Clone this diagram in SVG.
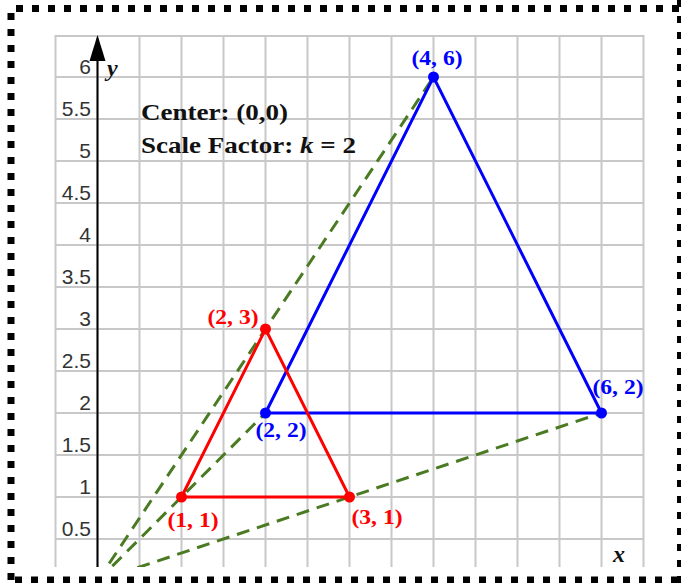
<svg xmlns="http://www.w3.org/2000/svg" width="681" height="583" viewBox="0 0 681 583">
<style>
.grid line{stroke:#c8c8c8;stroke-width:2}
.ylab{font-family:"Liberation Sans",Arial,sans-serif;font-size:21px;fill:#333;text-anchor:end}
.title{font-family:"Liberation Serif","Times New Roman",serif;font-size:23px;font-weight:bold;fill:#111}
.plab{font-family:"Liberation Serif","Times New Roman",serif;font-size:21px;font-weight:bold;text-anchor:middle}
.axlab{font-family:"Liberation Serif","Times New Roman",serif;font-size:24px;font-weight:bold;font-style:italic;fill:#111}
.red{fill:#ff0000}
.blue{fill:#0000ff}
.ray{stroke:#4a7a22;stroke-width:3;stroke-dasharray:13 8;fill:none}
.border{stroke:#000;stroke-width:7;stroke-dasharray:7 9;fill:none}
</style>
<defs>
<clipPath id="area"><rect x="50" y="30" width="600" height="537"/></clipPath>
</defs>
<rect width="681" height="583" fill="#fff"/>
<g class="grid">
<line x1="55.5" y1="35" x2="55.5" y2="567"/>
<line x1="97.5" y1="35" x2="97.5" y2="567"/>
<line x1="139.5" y1="35" x2="139.5" y2="567"/>
<line x1="181.5" y1="35" x2="181.5" y2="567"/>
<line x1="223.5" y1="35" x2="223.5" y2="567"/>
<line x1="265.5" y1="35" x2="265.5" y2="567"/>
<line x1="307.5" y1="35" x2="307.5" y2="567"/>
<line x1="349.5" y1="35" x2="349.5" y2="567"/>
<line x1="391.5" y1="35" x2="391.5" y2="567"/>
<line x1="433.5" y1="35" x2="433.5" y2="567"/>
<line x1="475.5" y1="35" x2="475.5" y2="567"/>
<line x1="517.5" y1="35" x2="517.5" y2="567"/>
<line x1="559.5" y1="35" x2="559.5" y2="567"/>
<line x1="601.5" y1="35" x2="601.5" y2="567"/>
<line x1="643.5" y1="35" x2="643.5" y2="567"/>
<line x1="55.5" y1="36" x2="643.5" y2="36"/>
<line x1="55.5" y1="77" x2="643.5" y2="77"/>
<line x1="55.5" y1="119" x2="643.5" y2="119"/>
<line x1="55.5" y1="161" x2="643.5" y2="161"/>
<line x1="55.5" y1="203" x2="643.5" y2="203"/>
<line x1="55.5" y1="245" x2="643.5" y2="245"/>
<line x1="55.5" y1="287" x2="643.5" y2="287"/>
<line x1="55.5" y1="329" x2="643.5" y2="329"/>
<line x1="55.5" y1="371" x2="643.5" y2="371"/>
<line x1="55.5" y1="413" x2="643.5" y2="413"/>
<line x1="55.5" y1="455" x2="643.5" y2="455"/>
<line x1="55.5" y1="497" x2="643.5" y2="497"/>
<line x1="55.5" y1="539" x2="643.5" y2="539"/>
</g>
<g id="y-axis">
<line x1="97.5" y1="567" x2="97.5" y2="55" stroke="#000" stroke-width="2"/>
<polygon points="97.5,35 105.5,61 89.5,61" fill="#000"/>
<text class="axlab" x="107" y="76">y</text>
</g>
<g id="x-label"><text class="axlab" x="613" y="562">x</text></g>
<g id="y-ticks">
<text class="ylab" x="91" y="73.5">6</text>
<text class="ylab" x="91" y="115.5">5.5</text>
<text class="ylab" x="91" y="157.5">5</text>
<text class="ylab" x="91" y="199.5">4.5</text>
<text class="ylab" x="91" y="241.5">4</text>
<text class="ylab" x="91" y="283.5">3.5</text>
<text class="ylab" x="91" y="325.5">3</text>
<text class="ylab" x="91" y="367.5">2.5</text>
<text class="ylab" x="91" y="409.5">2</text>
<text class="ylab" x="91" y="451.5">1.5</text>
<text class="ylab" x="91" y="493.5">1</text>
<text class="ylab" x="91" y="535.5">0.5</text>
</g>
<g id="info">
<text class="title" x="141" y="120" textLength="147" lengthAdjust="spacingAndGlyphs">Center: (0,0)</text>
<text class="title" x="141" y="153" textLength="215" lengthAdjust="spacingAndGlyphs">Scale Factor: <tspan font-style="italic">k</tspan> = 2</text>
</g>
<g id="connectors" clip-path="url(#area)">
<line class="ray" x1="97.5" y1="581" x2="433.5" y2="77"/>
<line class="ray" x1="97.5" y1="581" x2="265.5" y2="413"/>
<line class="ray" x1="97.5" y1="581" x2="601.5" y2="413"/>
</g>
<g id="image-triangle">
<polygon points="265.5,413 433.5,77 601.5,413" fill="none" stroke="#0000ff" stroke-width="3"/>
<circle cx="265.5" cy="413" r="5.5" fill="#0000ff"/>
<circle cx="433.5" cy="77" r="5.5" fill="#0000ff"/>
<circle cx="601.5" cy="413" r="5.5" fill="#0000ff"/>
<text class="plab blue" x="437" y="64.5" textLength="51" lengthAdjust="spacingAndGlyphs">(4, 6)</text>
<text class="plab blue" x="281" y="436.5" textLength="51" lengthAdjust="spacingAndGlyphs">(2, 2)</text>
<text class="plab blue" x="618" y="393.5" textLength="51" lengthAdjust="spacingAndGlyphs">(6, 2)</text>
</g>
<g id="original-triangle">
<polygon points="181.5,497 265.5,329 349.5,497" fill="none" stroke="#ff0000" stroke-width="3"/>
<circle cx="181.5" cy="497" r="5.5" fill="#ff0000"/>
<circle cx="265.5" cy="329" r="5.5" fill="#ff0000"/>
<circle cx="349.5" cy="497" r="5.5" fill="#ff0000"/>
<text class="plab red" x="233" y="323.5" textLength="51" lengthAdjust="spacingAndGlyphs">(2, 3)</text>
<text class="plab red" x="193" y="526.5" textLength="51" lengthAdjust="spacingAndGlyphs">(1, 1)</text>
<text class="plab red" x="377" y="523.5" textLength="51" lengthAdjust="spacingAndGlyphs">(3, 1)</text>
</g>
<g id="frame">
<line class="border" x1="16" y1="8.5" x2="681" y2="8.5"/>
<line class="border" x1="11" y1="13" x2="11" y2="583"/>
<line class="border" x1="15" y1="580" x2="681" y2="580"/>
<line class="border" x1="680.5" y1="0" x2="680.5" y2="583"/>
</g>
</svg>
